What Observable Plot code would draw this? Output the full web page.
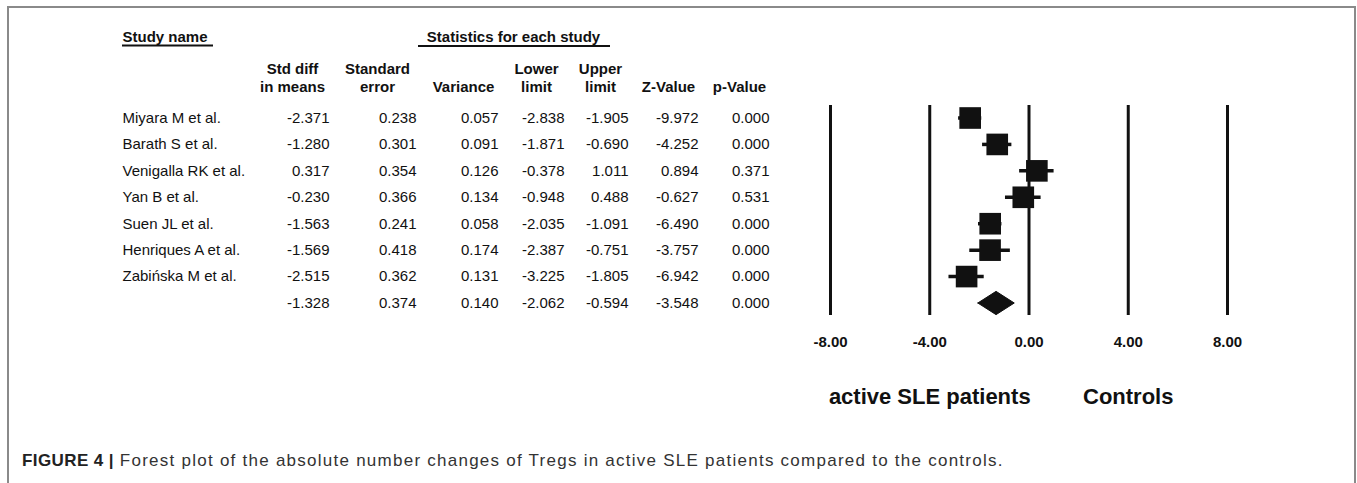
<!DOCTYPE html>
<html><head><meta charset="utf-8">
<script src="https://cdn.jsdelivr.net/npm/d3@7"></script>
<script src="https://cdn.jsdelivr.net/npm/@observablehq/plot@0.6"></script>
<style>
body{margin:0;background:#fff;}
#wrap{position:relative;width:1357px;height:483px;overflow:hidden;font-family:"Liberation Sans",Arial,sans-serif;}
#chart{position:absolute;left:0;top:0;}
#frame{position:absolute;left:7px;top:6px;width:1349px;height:520px;border:2px solid #8a8a8a;border-bottom:none;box-sizing:border-box;pointer-events:none;}
#caption{position:absolute;left:22px;top:451px;font-size:17px;color:#333;white-space:nowrap;letter-spacing:1.25px;}
#caption b{color:#222;letter-spacing:0.4px;}
</style></head><body>
<div id="wrap"><div id="chart"></div><div id="frame"></div>
<div id="caption"><b>FIGURE 4 |</b> Forest plot of the absolute number changes of Tregs in active SLE patients compared to the controls.</div></div>
<script>
// ---- data ----
const studies   = ["Miyara M et al.", "Barath S et al.", "Venigalla RK et al.", "Yan B et al.", "Suen JL et al.", "Henriques A et al.", "Zabińska M et al."];
const stdDiff   = [-2.371, -1.280, 0.317, -0.230, -1.563, -1.569, -2.515];
const stdErr    = [0.238, 0.301, 0.354, 0.366, 0.241, 0.418, 0.362];
const variance  = [0.057, 0.091, 0.126, 0.134, 0.058, 0.174, 0.131];
const lowerLim  = [-2.838, -1.871, -0.378, -0.948, -2.035, -2.387, -3.225];
const upperLim  = [-1.905, -0.690, 1.011, 0.488, -1.091, -0.751, -1.805];
const zValue    = [-9.972, -4.252, 0.894, -0.627, -6.490, -3.757, -6.942];
const pValue    = [0.000, 0.000, 0.371, 0.531, 0.000, 0.000, 0.000];
const summary   = {name: "", stdDiff: -1.328, stdErr: 0.374, variance: 0.140, lower: -2.062, upper: -0.594, z: -3.548, p: 0.000};
const axisTicks = [-8, -4, 0, 4, 8];
const sideLabels = [{x: -4, label: "active SLE patients"}, {x: 4, label: "Controls"}];

// ---- build table rows ----
const rows = studies.map((name, i) => ({i, name, stdDiff: stdDiff[i], stdErr: stdErr[i], variance: variance[i],
  lower: lowerLim[i], upper: upperLim[i], z: zValue[i], p: pValue[i]}));
const sumRow = {i: rows.length, ...summary};
const allRows = [...rows, sumRow];
const diamondHalf = 0.44;
const diamond = [
  {x: sumRow.lower, y: sumRow.i}, {x: sumRow.stdDiff, y: sumRow.i - diamondHalf},
  {x: sumRow.upper, y: sumRow.i}, {x: sumRow.stdDiff, y: sumRow.i + diamondHalf},
  {x: sumRow.lower, y: sumRow.i}
];

// ---- layout ----
const W = 1357, H = 440;
const columns = [
  {key: "stdDiff", right: 329}, {key: "stdErr", right: 416}, {key: "variance", right: 498},
  {key: "lower", right: 564}, {key: "upper", right: 628}, {key: "z", right: 698}, {key: "p", right: 769}
];
const headers = [
  {text: "Study name", x: 122, y: 36, anchor: "start"},
  {text: "Statistics for each study", x: 513, y: 36, anchor: "middle"},
  {text: "Std diff\nin means", x: 292, y: 77, anchor: "middle"},
  {text: "Standard\nerror", x: 377, y: 77, anchor: "middle"},
  {text: "Variance", x: 463, y: 86, anchor: "middle"},
  {text: "Lower\nlimit", x: 536, y: 77, anchor: "middle"},
  {text: "Upper\nlimit", x: 600, y: 77, anchor: "middle"},
  {text: "Z-Value", x: 668, y: 86, anchor: "middle"},
  {text: "p-Value", x: 739, y: 86, anchor: "middle"}
];
const fmt3 = v => v.toFixed(3);
const ink = "#111";

const marks = [
  Plot.ruleX(axisTicks, {insetTop: 105, stroke: ink, strokeWidth: 3}),
  Plot.ruleY(rows, {y: "i", x1: "lower", x2: "upper", stroke: ink, strokeWidth: 3.5}),
  Plot.dot(rows, {x: "stdDiff", y: "i", symbol: "square", r: 12.2, fill: ink, stroke: null}),
  Plot.line(diamond, {x: "x", y: "y", fill: ink, stroke: ink, strokeWidth: 1}),
  Plot.axisX(axisTicks, {tickSize: 0, tickPadding: 21, tickFormat: d => d.toFixed(2), fontSize: 15, fontWeight: "bold", fill: ink, label: null}),
  Plot.text(sideLabels, {x: "x", text: "label", frameAnchor: "bottom", dy: 88, fontSize: 22, fontWeight: "bold", fill: ink}),
  Plot.text(allRows, {y: "i", text: "name", frameAnchor: "left", textAnchor: "start", dx: 122, fontSize: 15, fill: ink}),
  ...columns.map(c => Plot.text(allRows, {y: "i", text: d => fmt3(d[c.key]), frameAnchor: "left", textAnchor: "end", dx: c.right, fontSize: 15, fill: ink})),
  ...headers.map(h => Plot.text([h], {text: "text", frameAnchor: "top-left", dx: h.x, dy: h.y, textAnchor: h.anchor, lineAnchor: "middle", lineHeight: 1.2, fontSize: 15, fontWeight: "bold", fill: ink}))
];

const chart = Plot.plot({
  width: W, height: H,
  marginLeft: 0, marginRight: 0, marginTop: 0, marginBottom: H - 315,
  x: {domain: [-8, 8], range: [830, 1227]},
  y: {domain: [0, 7], range: [117.5, 302.5], axis: null},
  style: {fontFamily: "'Liberation Sans', Arial, sans-serif", background: "transparent", color: ink},
  marks
});
const svg = d3.select(chart);
svg.append("line").attr("x1", 122).attr("x2", 213).attr("y1", 45.5).attr("y2", 45.5).attr("stroke", ink).attr("stroke-width", 2);
svg.append("line").attr("x1", 418).attr("x2", 610).attr("y1", 46).attr("y2", 46).attr("stroke", ink).attr("stroke-width", 2);
document.getElementById("chart").appendChild(chart);
</script>
</body></html>
